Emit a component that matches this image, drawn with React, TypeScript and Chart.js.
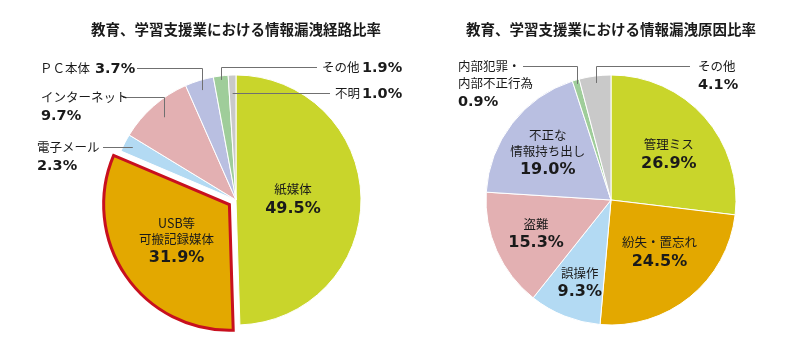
import React, { useEffect, useRef } from "react";
import { Chart, registerables } from "chart.js";

Chart.register(...registerables);

const W = 800;
const H = 355;

const routeTitle = "教育、学習支援業における情報漏洩経路比率";
const routeLabels = ["紙媒体", "USB等\n可搬記録媒体", "電子メール", "インターネット", "ＰＣ本体", "その他", "不明"];
const routeValues = [49.5, 31.9, 2.3, 9.7, 3.7, 1.9, 1.0];

const causeTitle = "教育、学習支援業における情報漏洩原因比率";
const causeLabels = ["管理ミス", "紛失・置忘れ", "誤操作", "盗難", "不正な\n情報持ち出し", "内部犯罪・\n内部不正行為", "その他"];
const causeValues = [26.9, 24.5, 9.3, 15.3, 19.0, 0.9, 4.1];

const sliceColors = ["#c9d52b", "#e3a800", "#b3daf3", "#e3b0b2", "#b9bfe1", "#9fcd9a", "#c9c9c9"];
const highlightColor = "#c8101e";

type Spec = {
  kind: "in" | "out";
  r: number;
  da?: number;
  bend?: "v" | "h";
  lineY?: number;
  lineX?: number;
  textX?: number;
  inline?: boolean;
  pctX?: number;
};

const routeSpecs: Spec[] = [
  { kind: "in", r: 57 },
  { kind: "in", r: 64 },
  { kind: "out", r: 116, bend: "h", lineX: 103, textX: 37, inline: false },
  { kind: "out", r: 110, bend: "v", lineY: 97, lineX: 123, textX: 41, inline: false },
  { kind: "out", r: 115, bend: "v", lineY: 68, lineX: 137, textX: 40, inline: true },
  { kind: "out", r: 121, bend: "v", lineY: 67, lineX: 317, textX: 322, inline: true, pctX: 362 },
  { kind: "out", r: 107, bend: "h", lineX: 330, textX: 335, inline: true, pctX: 362 },
];

const causeSpecs: Spec[] = [
  { kind: "in", r: 74, da: 3 },
  { kind: "in", r: 71, da: -4 },
  { kind: "in", r: 88, da: -1 },
  { kind: "in", r: 82, da: 0 },
  { kind: "in", r: 79, da: -1 },
  { kind: "out", r: 121, bend: "v", lineY: 66, lineX: 523, textX: 458, inline: false },
  { kind: "out", r: 118, bend: "v", lineY: 66, lineX: 690, textX: 698, inline: false },
];

const LABEL_FONT = '12.5px "Noto Sans CJK JP", "Noto Sans", sans-serif';
const PCT_FONT_IN = 'bold 16px "DejaVu Sans", sans-serif';
const PCT_FONT_OUT = 'bold 14.5px "DejaVu Sans", sans-serif';
const TITLE_FONT = 'bold 14.5px "Noto Sans CJK JP", "Noto Sans", sans-serif';
const TEXT_COLOR = "#1a1a1a";
const LINE_COLOR = "#707070";

function makeLabelPlugin(title: string, specs: Spec[], offsetPx: number[]) {
  return {
    id: "sliceLabels",
    afterDatasetsDraw(chart: any) {
      const ctx: CanvasRenderingContext2D = chart.ctx;
      const meta = chart.getDatasetMeta(0);
      const labels: string[] = chart.data.labels;
      const values: number[] = chart.data.datasets[0].data;
      ctx.save();
      const cx0 = meta.data[0].x;
      ctx.font = TITLE_FONT;
      ctx.fillStyle = TEXT_COLOR;
      ctx.textAlign = "center";
      ctx.textBaseline = "middle";
      ctx.fillText(title, cx0, 29);

      meta.data.forEach((el: any, i: number) => {
        const spec = specs[i];
        const mid = (el.startAngle + el.endAngle) / 2;
        const off = offsetPx[i] || 0;
        const cx = el.x + Math.cos(mid) * off;
        const cy = el.y + Math.sin(mid) * off;
        const a = mid + ((spec.da || 0) * Math.PI) / 180;
        const px = cx + Math.cos(a) * spec.r;
        const py = cy + Math.sin(a) * spec.r;
        const lines = labels[i].split("\n");
        const pct = values[i].toFixed(1) + "%";
        ctx.fillStyle = TEXT_COLOR;
        if (spec.kind === "in") {
          const lh = 16;
          const pctGap = 19;
          const total = (lines.length - 1) * lh + pctGap;
          let y = py - total / 2;
          ctx.textAlign = "center";
          ctx.textBaseline = "middle";
          ctx.font = LABEL_FONT;
          lines.forEach((ln) => {
            ctx.fillText(ln, px, y);
            y += lh;
          });
          y += pctGap - lh;
          ctx.font = PCT_FONT_IN;
          ctx.fillText(pct, px, y);
        } else {
          ctx.strokeStyle = LINE_COLOR;
          ctx.lineWidth = 1;
          ctx.beginPath();
          let ty: number;
          if (spec.bend === "v") {
            ctx.moveTo(Math.round(px) + 0.5, py);
            ctx.lineTo(Math.round(px) + 0.5, spec.lineY! + 0.5);
            ctx.lineTo(spec.lineX!, spec.lineY! + 0.5);
            ty = spec.lineY!;
          } else {
            ctx.moveTo(px, Math.round(py) + 0.5);
            ctx.lineTo(spec.lineX!, Math.round(py) + 0.5);
            ty = Math.round(py);
          }
          ctx.stroke();
          ctx.textAlign = "left";
          ctx.textBaseline = "middle";
          ctx.font = LABEL_FONT;
          const tx = spec.textX!;
          if (spec.inline) {
            ctx.fillText(lines[0], tx, ty);
            const w = ctx.measureText(lines[0]).width;
            ctx.font = PCT_FONT_OUT;
            ctx.fillText(pct, spec.pctX ?? tx + w + 5, ty + 1);
          } else {
            let y = ty;
            lines.forEach((ln) => {
              ctx.fillText(ln, tx, y);
              y += 17;
            });
            ctx.font = PCT_FONT_OUT;
            ctx.fillText(pct, tx, y + 2);
          }
        }
      });
      ctx.restore();
    },
  };
}

function buildChart(
  canvas: HTMLCanvasElement,
  title: string,
  labels: string[],
  values: number[],
  specs: Spec[],
  padding: { left: number; right: number; top: number; bottom: number },
  highlight: number
) {
  const offsets = values.map((_, i) => (i === highlight ? 32 : 0));
  const offsetPx = offsets.map((o) => o / 4);
  return new Chart(canvas, {
    type: "pie",
    data: {
      labels,
      datasets: [
        {
          data: values,
          backgroundColor: sliceColors,
          borderColor: values.map((_, i) => (i === highlight ? highlightColor : "#ffffff")),
          borderWidth: values.map((_, i) => (i === highlight ? 3 : 1)),
          offset: offsets,
          borderJoinStyle: "miter",
        } as any,
      ],
    },
    options: {
      responsive: false,
      animation: false,
      devicePixelRatio: 1,
      radius: 125,
      events: [],
      layout: { padding },
      plugins: {
        legend: { display: false },
        tooltip: { enabled: false },
        title: { display: false },
      },
    } as any,
    plugins: [makeLabelPlugin(title, specs, offsetPx)],
  });
}

export default function App() {
  const leftRef = useRef<HTMLCanvasElement | null>(null);
  const rightRef = useRef<HTMLCanvasElement | null>(null);

  useEffect(() => {
    const c1 = buildChart(
      leftRef.current!,
      routeTitle,
      routeLabels,
      routeValues,
      routeSpecs,
      { left: 111, right: W - 361, top: 75, bottom: H - 325 },
      1
    );
    const c2 = buildChart(
      rightRef.current!,
      causeTitle,
      causeLabels,
      causeValues,
      causeSpecs,
      { left: 486, right: W - 736, top: 75, bottom: H - 325 },
      -1
    );
    return () => {
      c1.destroy();
      c2.destroy();
    };
  }, []);

  const canvasStyle: React.CSSProperties = { position: "absolute", left: 0, top: 0 };
  return (
    <div style={{ position: "absolute", left: 0, top: 0, width: W, height: H, background: "#ffffff" }}>
      <canvas ref={leftRef} width={W} height={H} style={canvasStyle} />
      <canvas ref={rightRef} width={W} height={H} style={canvasStyle} />
    </div>
  );
}
